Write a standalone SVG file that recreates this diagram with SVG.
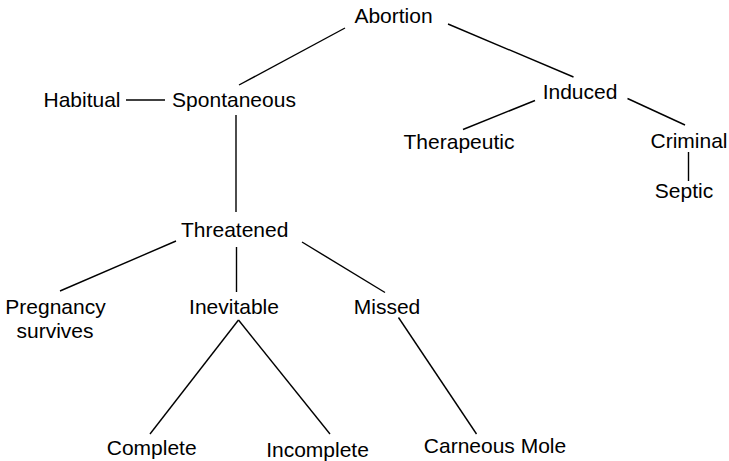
<svg xmlns="http://www.w3.org/2000/svg" width="729" height="461" viewBox="0 0 729 461">
<style>
text{font-family:"Liberation Sans",Arial,sans-serif;font-size:21px;fill:#000;text-anchor:middle}
line{stroke:#000;stroke-width:1.4}
</style>
<rect width="729" height="461" fill="#fff"/>
<g id="connectors">
<line x1="345" y1="28" x2="239" y2="85"/>
<line x1="448" y1="24" x2="573.5" y2="77"/>
<line x1="126" y1="100" x2="165" y2="100"/>
<line x1="535" y1="100.5" x2="463" y2="129.5"/>
<line x1="627.5" y1="98.5" x2="685" y2="125"/>
<line x1="236" y1="115" x2="236" y2="212"/>
<line x1="688.5" y1="152" x2="688.5" y2="181"/>
<line x1="176" y1="241" x2="60" y2="291"/>
<line x1="236.5" y1="247" x2="236.5" y2="292"/>
<line x1="302" y1="242" x2="385" y2="292.5"/>
<line x1="238.5" y1="320" x2="150" y2="434"/>
<line x1="238.5" y1="320" x2="330" y2="434"/>
<line x1="398.5" y1="317.5" x2="476.5" y2="434"/>
</g>
<g id="abortion"><text x="393.5" y="23.3">Abortion</text></g>
<g id="habitual"><text x="82" y="106.7">Habitual</text></g>
<g id="spontaneous"><text x="234" y="106.7">Spontaneous</text></g>
<g id="induced"><text x="580" y="99.3">Induced</text></g>
<g id="therapeutic"><text x="459" y="149">Therapeutic</text></g>
<g id="criminal"><text x="689" y="148.3">Criminal</text></g>
<g id="septic"><text x="684" y="198.3">Septic</text></g>
<g id="threatened"><text x="234.7" y="236.8">Threatened</text></g>
<g id="pregnancy"><text x="55.5" y="314.3">Pregnancy</text><text x="55" y="338.3">survives</text></g>
<g id="inevitable"><text x="234" y="314.3">Inevitable</text></g>
<g id="missed"><text x="387" y="314.3">Missed</text></g>
<g id="complete"><text x="151.7" y="455">Complete</text></g>
<g id="incomplete"><text x="317.5" y="456.7">Incomplete</text></g>
<g id="carneous"><text x="495" y="453.3">Carneous Mole</text></g>
</svg>
